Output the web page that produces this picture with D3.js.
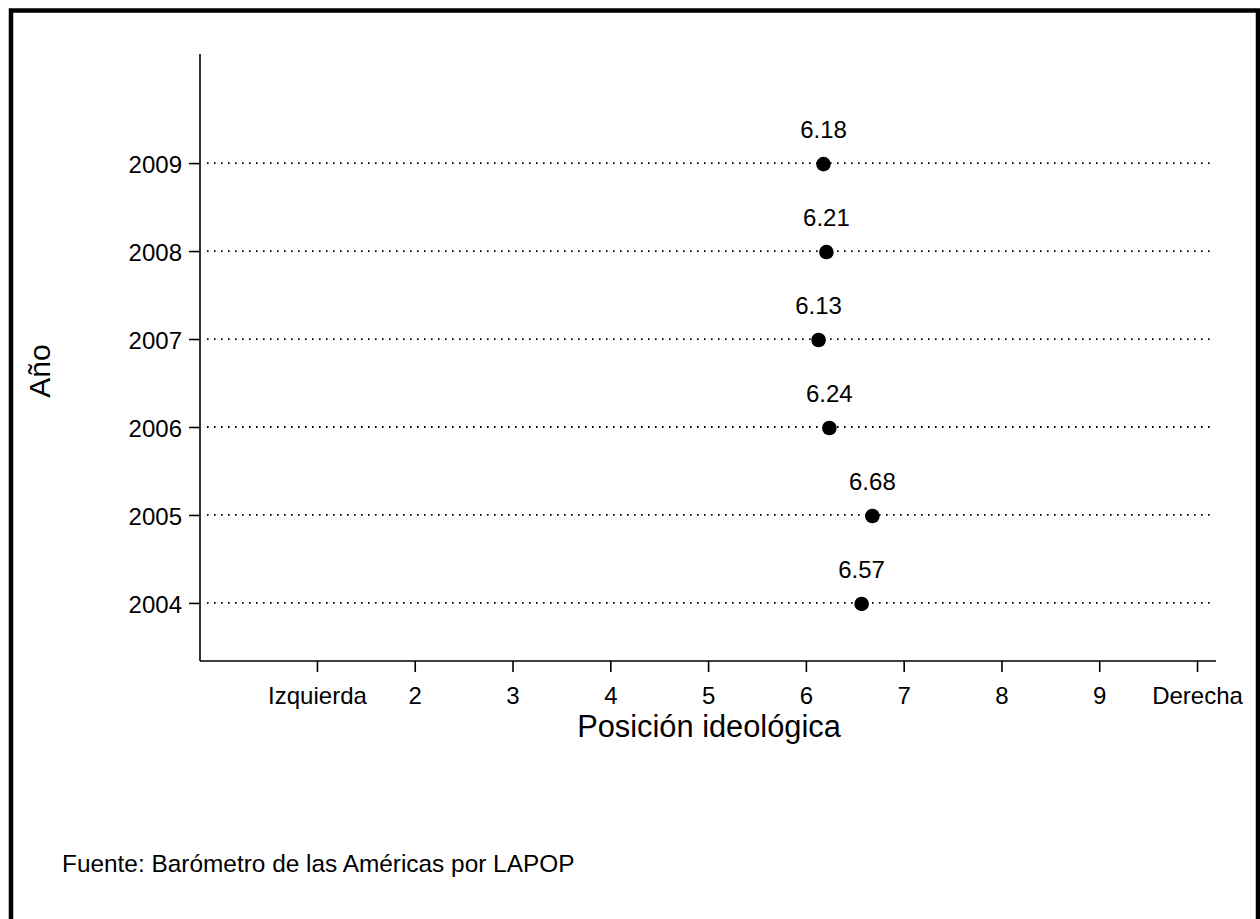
<!DOCTYPE html>
<html>
<head>
<meta charset="utf-8">
<script src="https://d3js.org/d3.v7.min.js"></script>
<style>
  html, body { margin: 0; padding: 0; background: #fff; }
  svg { display: block; font-family: "Liberation Sans", Arial, sans-serif; }
</style>
</head>
<body>
<script>
const years = [2004, 2005, 2006, 2007, 2008, 2009];
const values = [6.57, 6.68, 6.24, 6.13, 6.21, 6.18];
const xTickValues = [1, 2, 3, 4, 5, 6, 7, 8, 9, 10];
const xTickLabels = ["Izquierda", "2", "3", "4", "5", "6", "7", "8", "9", "Derecha"];
const xTitle = "Posición ideológica";
const yTitle = "Año";
const source = "Fuente: Barómetro de las Américas por LAPOP";

const W = 1260, H = 919;
const svg = d3.select("body").append("svg").attr("width", W).attr("height", H);

// outer frame
svg.append("rect").attr("x", 11).attr("y", 10.5).attr("width", 1247).attr("height", 940)
  .attr("fill", "none").attr("stroke", "#000").attr("stroke-width", 4.5);

const x = d3.scaleLinear().domain([-0.196, 10.194]).range([200, 1216]);
const y = d3.scaleLinear().domain([2003.34, 2010.24]).range([661, 54]);

// gridlines
svg.append("g").selectAll("line").data(years).join("line")
  .attr("x1", 207).attr("x2", 1212)
  .attr("y1", d => y(d)).attr("y2", d => y(d))
  .attr("stroke", "#000").attr("stroke-width", 1.8)
  .attr("stroke-dasharray", "1.6,5.4");

// x axis
const xAxis = d3.axisBottom(x).tickValues(xTickValues)
  .tickFormat((d, i) => xTickLabels[i]).tickSize(11).tickPadding(10);
const gx = svg.append("g").attr("transform", "translate(0,661)").call(xAxis);
gx.select(".domain").attr("d", "M200,0H1216").attr("stroke-width", 1.6);
gx.selectAll(".tick line").attr("stroke-width", 1.6);
gx.selectAll(".tick text").attr("font-size", 24).attr("fill", "#000")
  .attr("font-family", "Liberation Sans, Arial, sans-serif").attr("dy", null).attr("y", 43);

// y axis
const yAxis = d3.axisLeft(y).tickValues(years).tickFormat(d3.format("d")).tickSize(11).tickPadding(7);
const gy = svg.append("g").attr("transform", "translate(200,0)").call(yAxis);
gy.select(".domain").attr("d", "M0,54V661").attr("stroke-width", 1.6);
gy.selectAll(".tick line").attr("stroke-width", 1.6);
gy.selectAll(".tick text").attr("font-size", 24).attr("fill", "#000")
  .attr("font-family", "Liberation Sans, Arial, sans-serif").attr("dy", "0.4em");

// points
const pts = years.map((yr, i) => ({ yr, v: values[i] }));
svg.append("g").selectAll("circle").data(pts).join("circle")
  .attr("cx", d => x(d.v)).attr("cy", d => y(d.yr) + 1).attr("r", 7.3).attr("fill", "#000");

svg.append("g").selectAll("text").data(pts).join("text")
  .attr("x", d => x(d.v)).attr("y", d => y(d.yr) - 25)
  .attr("text-anchor", "middle").attr("font-size", 24).attr("fill", "#000")
  .text(d => d.v.toFixed(2));

// titles
svg.append("text").attr("x", 709).attr("y", 737).attr("text-anchor", "middle")
  .attr("font-size", 30.8).attr("fill", "#000").text(xTitle);
svg.append("text").attr("transform", "translate(50,371) rotate(-90)").attr("text-anchor", "middle")
  .attr("font-size", 30).attr("fill", "#000").text(yTitle);

svg.append("text").attr("x", 62).attr("y", 872).attr("font-size", 24.4).attr("fill", "#000").text(source);
</script>
</body>
</html>
